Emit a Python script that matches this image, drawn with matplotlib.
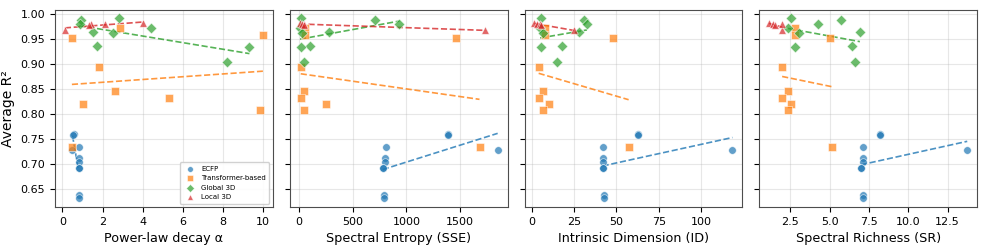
import numpy as np
import matplotlib
matplotlib.use("Agg")
import matplotlib.pyplot as plt

# values, one entry per model
# ECFP
ecfp_r2 = [0.760, 0.759, 0.734, 0.728, 0.712, 0.705, 0.693, 0.692, 0.638, 0.632]
ecfp_alpha = [0.60, 0.55, 0.80, 0.50, 0.80, 0.80, 0.80, 0.80, 0.80, 0.80]
ecfp_sse = [1389, 1385, 810, 1849, 800, 800, 785, 780, 795, 795]
ecfp_id = [63.0, 62.8, 42.3, 118.7, 42.3, 42.3, 41.8, 41.8, 42.6, 42.6]
ecfp_sr = [8.2, 8.2, 7.1, 13.75, 7.1, 7.1, 7.0, 7.0, 7.1, 7.1]

# Transformer-based
trf_r2 = [0.972, 0.958, 0.953, 0.895, 0.847, 0.832, 0.821, 0.809, 0.734]
trf_alpha = [2.88, 10.0, 0.50, 1.80, 2.60, 5.33, 1.00, 9.88, 0.47]
trf_sse = [57, 57, 1459, 16, 48, 16, 254, 48, 1680]
trf_id = [7.7, 7.9, 47.7, 3.9, 6.7, 3.9, 10.3, 6.7, 57.2]
trf_sr = [2.78, 2.78, 5.04, 1.99, 2.37, 1.99, 2.56, 2.37, 5.15]

# Global 3D
g3d_r2 = [0.992, 0.989, 0.980, 0.972, 0.965, 0.962, 0.936, 0.934, 0.904]
g3d_alpha = [2.80, 0.92, 0.85, 4.42, 1.50, 2.50, 1.72, 9.33, 8.20]
g3d_sse = [22, 704, 935, 10, 279, 32, 105, 16, 48]
g3d_id = [5.3, 31.0, 32.5, 4.8, 27.8, 6.5, 17.5, 5.1, 15.0]
g3d_sr = [2.56, 5.72, 4.24, 2.37, 6.93, 3.07, 6.42, 2.78, 6.61]

# Local 3D
l3d_r2 = [0.968, 0.982, 0.981, 0.980, 0.979]
l3d_alpha = [0.12, 4.00, 1.42, 2.12, 1.33]
l3d_sse = [1733, 6, 45, 25, 50]
l3d_id = [24.6, 1.4, 3.0, 4.4, 5.0]
l3d_sr = [1.97, 1.17, 1.97, 1.38, 1.53]

groups = [
    ("ECFP", "#1f77b4", "o", ecfp_r2, [ecfp_alpha, ecfp_sse, ecfp_id, ecfp_sr]),
    ("Transformer-based", "#ff7f0e", "s", trf_r2, [trf_alpha, trf_sse, trf_id, trf_sr]),
    ("Global 3D", "#2ca02c", "D", g3d_r2, [g3d_alpha, g3d_sse, g3d_id, g3d_sr]),
    ("Local 3D", "#d62728", "^", l3d_r2, [l3d_alpha, l3d_sse, l3d_id, l3d_sr]),
]

xlabels = ["Power-law decay α", "Spectral Entropy (SSE)",
           "Intrinsic Dimension (ID)", "Spectral Richness (SR)"]

fig, axes = plt.subplots(1, 4, figsize=(9.87, 2.47), dpi=100, sharey=True)
fig.subplots_adjust(left=0.0557, right=0.99, top=0.96, bottom=0.162, wspace=0.078)

for i, ax in enumerate(axes):
    for name, col, mk, r2, xs in groups:
        x = np.array(xs[i], dtype=float)
        y = np.array(r2, dtype=float)
        ax.scatter(x, y, c=col, marker=mk, s=30, alpha=0.7,
                   edgecolors="white", linewidths=0.5, label=name, zorder=3)
        # linear fit over the group's x range
        k, b = np.polyfit(x, y, 1)
        xx = np.array([x.min(), x.max()])
        ax.plot(xx, k * xx + b, "--", color=col, lw=1.2, alpha=0.8, zorder=2)
    ax.set_xlabel(xlabels[i], fontsize=9.2)
    ax.grid(True, alpha=0.3)
    ax.tick_params(labelsize=8)
    for sp in ax.spines.values():
        sp.set_color("0.3")

axes[0].set_ylim(0.614, 1.009)
axes[0].set_ylabel("Average R²", fontsize=10)
axes[0].legend(loc="lower right", fontsize=5, markerscale=0.75, framealpha=0.9,
               handletextpad=0.6, borderpad=0.5)

fig.savefig("out.png", dpi=100)
